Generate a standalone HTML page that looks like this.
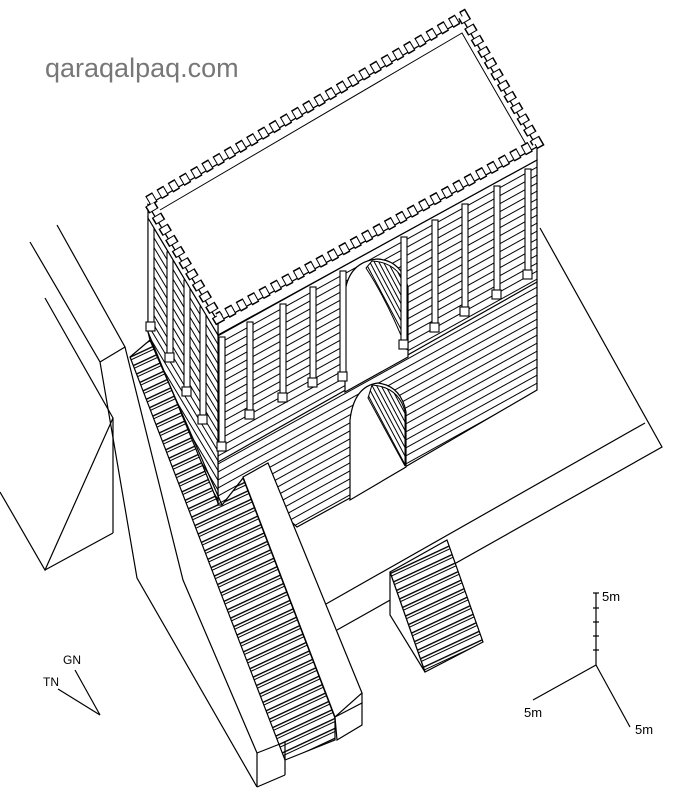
<!DOCTYPE html>
<html><head><meta charset="utf-8"><style>
html,body{margin:0;padding:0;background:#fff}
svg{display:block}
text{font-family:"Liberation Sans",sans-serif}
</style></head><body>
<svg width="700" height="809" viewBox="0 0 700 809" xmlns="http://www.w3.org/2000/svg">
<defs>
<pattern id="hf" width="20" height="7" patternUnits="userSpaceOnUse" patternTransform="rotate(-29)">
<rect width="20" height="7" fill="#fff"/><line x1="0" y1="0.5" x2="20" y2="0.5" stroke="#000" stroke-width="1.1"/></pattern>
<pattern id="hl" width="20" height="5" patternUnits="userSpaceOnUse" patternTransform="rotate(59)">
<rect width="20" height="5" fill="#fff"/><line x1="0" y1="0.5" x2="20" y2="0.5" stroke="#000" stroke-width="1"/></pattern>
<pattern id="hs" width="20" height="9" patternUnits="userSpaceOnUse" patternTransform="rotate(-25)">
<rect width="20" height="9" fill="#fff"/><line x1="0" y1="0.7" x2="20" y2="0.7" stroke="#000" stroke-width="1.4"/><line x1="0" y1="3.5" x2="20" y2="3.5" stroke="#000" stroke-width="0.9"/></pattern>
<pattern id="ha" width="20" height="4" patternUnits="userSpaceOnUse" patternTransform="rotate(62)">
<rect width="20" height="4" fill="#fff"/><line x1="0" y1="0.5" x2="20" y2="0.5" stroke="#000" stroke-width="1"/></pattern>
</defs>

<text x="45" y="77" font-size="27" fill="#777">qaraqalpaq.com</text>

<g fill="none" stroke="#000" stroke-width="1.2">
<polyline points="57,225 125,347 183,580 257,753"/>
<polyline points="30,242 100,362 137,578 257,787"/>
<line x1="100" y1="362" x2="125" y2="347"/>
<polyline points="45,298 113,418 113,533"/>
<polyline points="0,492 45,570 113,418"/>
<line x1="45" y1="570" x2="113" y2="533"/>
<polyline points="257,753 257,787"/>
<line x1="257" y1="753" x2="285" y2="742"/>
<line x1="257" y1="787" x2="285" y2="775"/>
<polyline points="540,228 662,447 337,630"/>
<line x1="645" y1="423" x2="326" y2="604"/>
</g>

<polygon points="390,572 447,540 483,642 425,672" fill="url(#hs)" stroke="#000" stroke-width="1.2"/>
<polygon points="390,572 390,615 425,672" fill="#fff" stroke="#000" stroke-width="1.2"/>

<polygon points="130,357 150,340 222,505 243,478 335,718 335,740 285,760" fill="url(#hs)" stroke="#000" stroke-width="1.2"/>
<line x1="285" y1="742" x2="285" y2="775" stroke="#000" stroke-width="1.2"/>

<polygon points="218,335 537,160 537,390 405,467 350,498 297,527 243,478 222,505 218,505" fill="url(#hf)" stroke="#000" stroke-width="1.2"/>
<line x1="218" y1="462" x2="537" y2="282" stroke="#000" stroke-width="1.2"/>

<polygon points="148,218 218,335 218,503 148,332" fill="url(#hl)" stroke="#000" stroke-width="1.2"/>
<line x1="150" y1="340" x2="222" y2="505" stroke="#000" stroke-width="1.2"/>
<line x1="148" y1="332" x2="150" y2="340" stroke="#000" stroke-width="1.2"/>

<path d="M345,392 L345,292 Q349,262 377,259 Q401,260 408,287 L408,357 Z" fill="#fff" stroke="#000" stroke-width="1.2"/>
<path d="M372,261 Q398,262 407,288 L407,350 Q388,302 366,268 Z" fill="url(#ha)" stroke="#000" stroke-width="1"/>
<path d="M350,500 L350,420 Q354,386 378,383 Q401,386 406,412 L406,467 Z" fill="#fff" stroke="#000" stroke-width="1.2"/>
<path d="M372,385 Q399,387 405,412 L405,466 L368,398 Z" fill="url(#ha)" stroke="#000" stroke-width="1"/>

<polygon points="243,477 268,463 362,693 335,717" fill="#fff" stroke="#000" stroke-width="1.2"/>
<polygon points="335,717 362,703 362,725 337,740" fill="#fff" stroke="#000" stroke-width="1.2"/>
<line x1="362" y1="693" x2="362" y2="703" stroke="#000" stroke-width="1.2"/>

<g fill="#fff" stroke="#000" stroke-width="1.1">
<rect x="219" y="337" width="6" height="110"/><rect x="217" y="442" width="9" height="9"/>
<rect x="247" y="322" width="6" height="90"/><rect x="245" y="410" width="9" height="9"/>
<rect x="280" y="304" width="6" height="91"/><rect x="278" y="393" width="9" height="9"/>
<rect x="310" y="287" width="6" height="93"/><rect x="308" y="378" width="9" height="9"/>
<rect x="340" y="271" width="6" height="103"/><rect x="338" y="372" width="9" height="9"/>
<rect x="401" y="237" width="6" height="105"/><rect x="399" y="340" width="9" height="9"/>
<rect x="432" y="220" width="6" height="105"/><rect x="430" y="323" width="9" height="9"/>
<rect x="462" y="204" width="6" height="105"/><rect x="460" y="307" width="9" height="9"/>
<rect x="494" y="186" width="6" height="106"/><rect x="492" y="290" width="9" height="9"/>
<rect x="525" y="169" width="6" height="103"/><rect x="523" y="270" width="9" height="9"/>
<rect x="148" y="220" width="6" height="105"/><rect x="146" y="322" width="9" height="9"/>
<rect x="167" y="252" width="6" height="103"/><rect x="165" y="353" width="9" height="9"/>
<rect x="184" y="280" width="6" height="109"/><rect x="182" y="387" width="9" height="9"/>
<rect x="200" y="307" width="6" height="110"/><rect x="198" y="415" width="9" height="9"/>
</g>

<polygon points="148,205 463,20 537,147 218,322" fill="#fff" stroke="#000" stroke-width="1.3"/>
<polygon points="218,322 537,147 537,160 218,335" fill="#fff" stroke="#000" stroke-width="1.2"/>
<polygon points="148,205 218,322 218,335 148,218" fill="#fff" stroke="#000" stroke-width="1.2"/>
<polyline points="160,210 462,33 527,146" fill="none" stroke="#000" stroke-width="1"/>
<g fill="none" stroke-linecap="butt">
<polyline points="148,201 463,16 537,143 218,318 148,201" stroke="#000" stroke-width="11" stroke-dasharray="8 5"/>
<polyline points="148,201 463,16 537,143 218,318 148,201" stroke="#fff" stroke-width="8" stroke-dasharray="6 7" stroke-dashoffset="-1"/>
</g>

<text x="63" y="664" font-size="12">GN</text>
<text x="43" y="686" font-size="12">TN</text>
<g stroke="#000" stroke-width="1.2">
<line x1="75" y1="670" x2="100" y2="715"/>
<line x1="58" y1="689" x2="100" y2="715"/>
</g>
<g stroke="#000" stroke-width="1.2">
<line x1="596" y1="593" x2="596" y2="665"/>
<line x1="596" y1="665" x2="533" y2="700"/>
<line x1="596" y1="665" x2="630" y2="727"/>
<line x1="593" y1="593" x2="599" y2="593"/>
<line x1="593" y1="608" x2="599" y2="608"/>
<line x1="593" y1="622" x2="599" y2="622"/>
<line x1="593" y1="636" x2="599" y2="636"/>
<line x1="593" y1="650" x2="599" y2="650"/>
</g>
<text x="602" y="601" font-size="13">5m</text>
<text x="524" y="717" font-size="13">5m</text>
<text x="635" y="734" font-size="13">5m</text>
</svg>
</body></html>
